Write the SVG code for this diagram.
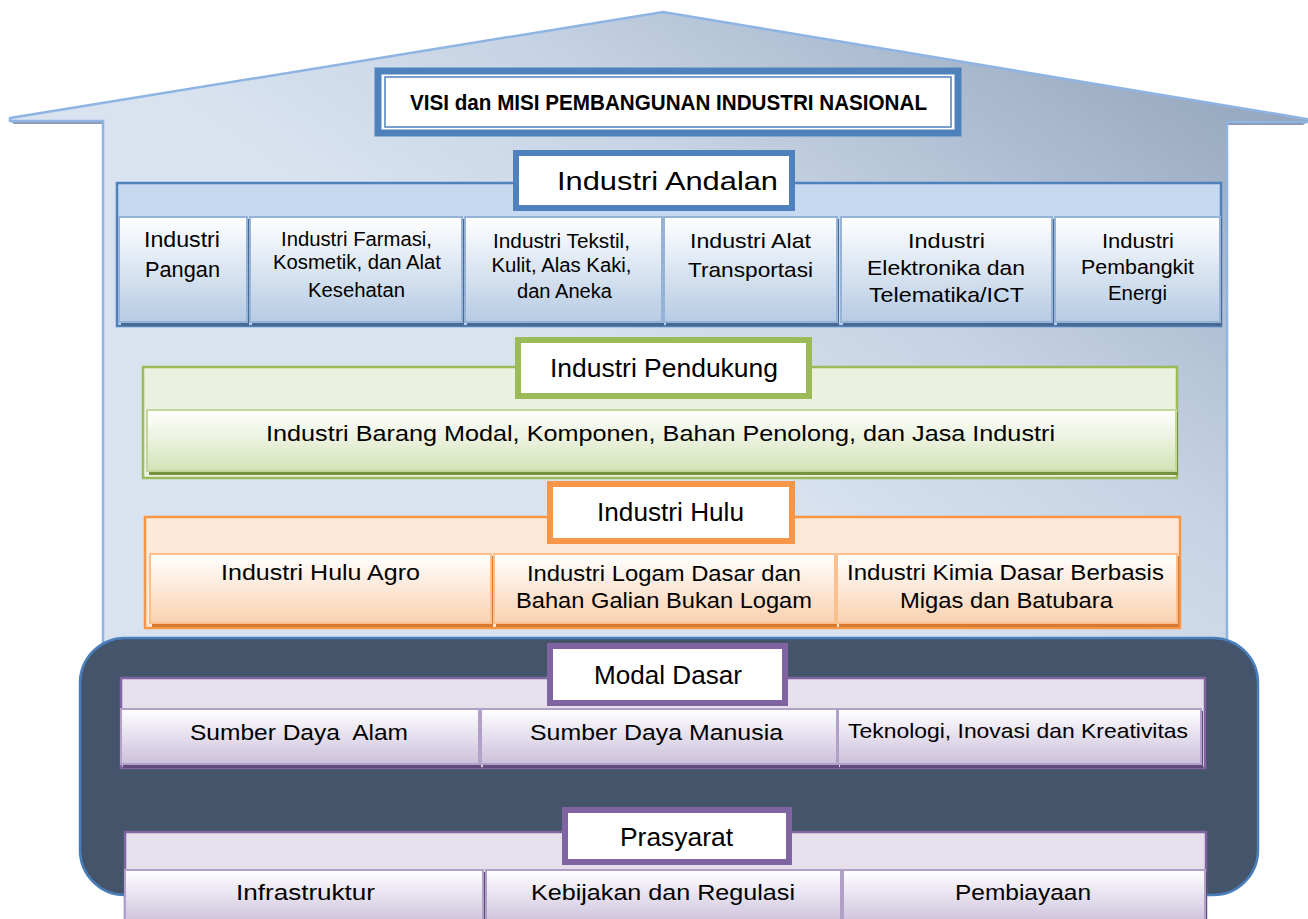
<svg xmlns="http://www.w3.org/2000/svg" width="1308" height="919" viewBox="0 0 1308 919">
<defs>
  <linearGradient id="gHouse" gradientUnits="userSpaceOnUse" x1="1250" y1="100" x2="900" y2="600">
    <stop offset="0" stop-color="#96a8bf"/>
    <stop offset="0.6" stop-color="#c6d3e4"/>
    <stop offset="1" stop-color="#d9e3f0"/>
  </linearGradient>
  <linearGradient id="gBlue" x1="0" y1="0" x2="0" y2="1">
    <stop offset="0" stop-color="#ffffff"/>
    <stop offset="1" stop-color="#b6cbe4"/>
  </linearGradient>
  <linearGradient id="gGreen" x1="0" y1="0" x2="0" y2="1">
    <stop offset="0" stop-color="#ffffff"/>
    <stop offset="1" stop-color="#d4e3b8"/>
  </linearGradient>
  <linearGradient id="gOrange" x1="0" y1="0" x2="0" y2="1">
    <stop offset="0" stop-color="#ffffff"/>
    <stop offset="1" stop-color="#fad1b0"/>
  </linearGradient>
  <linearGradient id="gPurple" x1="0" y1="0" x2="0" y2="1">
    <stop offset="0" stop-color="#ffffff"/>
    <stop offset="1" stop-color="#cbbfdb"/>
  </linearGradient>
</defs>
<style>
  text { font-family: "Liberation Sans", Arial, sans-serif; fill: #000; text-anchor: middle; }
  .title { font-weight: bold; font-size: 22px; }
  .hdr { font-size: 25px; }
  .t22 { font-size: 22px; }
  .t21 { font-size: 21px; }
  .t20 { font-size: 20px; }
  .hb { fill: #ffffff; stroke-width: 6; }
  .blue { stroke: #4f81bd; }
  .green { stroke: #9bbb59; }
  .orange { stroke: #f79646; }
  .purple { stroke: #8064a2; }
  .cBlue { fill: #c6d9f1; stroke: #4f81bd; stroke-width: 2.5; }
  .cGreen { fill: #ebf1de; stroke: #9bbb59; stroke-width: 2.5; }
  .cOrange { fill: #fde9d9; stroke: #f79646; stroke-width: 2.5; }
  .cPurple { fill: #e5e0ec; stroke: #8064a2; stroke-width: 2.5; }
  .bBlue { fill: url(#gBlue); stroke: #95b3d7; stroke-width: 2; }
  .bGreen { fill: url(#gGreen); stroke: #c3d69b; stroke-width: 2; }
  .bOrange { fill: url(#gOrange); stroke: #fac090; stroke-width: 2; }
  .bPurple { fill: url(#gPurple); stroke: #b2a1c7; stroke-width: 2; }
  .shB { fill: #4a6a96; }
  .shG { fill: #76923c; }
  .shO { fill: #d9782e; }
  .shP { fill: #5f4a7b; }
</style>

<g id="house">
  <path d="M10,121 L103,121 L103,124 L14,124 Z M1227,122 L1307,122 L1303,125 L1227,125 Z" fill="#8c9aad"/>
  <path d="M10,118 L663,12 L1307,119 L1307,122 L1227,122 L1227,650 L103,650 L103,121 L10,121 Z" fill="url(#gHouse)" stroke="#8eb4e3" stroke-width="2.5" stroke-linejoin="miter"/>
</g>

<g id="title">
  <rect x="378" y="71" width="580" height="62" fill="#ffffff" stroke="#4f81bd" stroke-width="7"/>
  <rect x="385" y="77" width="566" height="50" fill="#ffffff" stroke="#4f81bd" stroke-width="1.5"/>
  <text class="title" x="668.5" y="110" textLength="517" lengthAdjust="spacingAndGlyphs">VISI dan MISI PEMBANGUNAN INDUSTRI NASIONAL</text>
</g>

<g id="andalan">
  <rect class="cBlue" x="117" y="183" width="1104" height="143"/>
  <rect class="hb blue" x="516" y="153" width="276" height="55"/>
  <text class="hdr" x="667.5" y="190" textLength="221" lengthAdjust="spacingAndGlyphs">Industri Andalan</text>
</g>
<g id="andalan-1">
  <rect class="shB" x="121" y="219" width="128" height="107"/>
  <rect class="bBlue" x="119" y="217" width="128" height="105"/>
  <text class="t22" x="182" y="247" textLength="76" lengthAdjust="spacingAndGlyphs">Industri</text>
  <text class="t22" x="182.5" y="277" textLength="75" lengthAdjust="spacingAndGlyphs">Pangan</text>
</g>
<g id="andalan-2">
  <rect class="shB" x="252" y="219" width="212" height="107"/>
  <rect class="bBlue" x="250" y="217" width="212" height="105"/>
  <text class="t20" x="356.5" y="246" textLength="151" lengthAdjust="spacingAndGlyphs">Industri Farmasi,</text>
  <text class="t20" x="357" y="269" textLength="168" lengthAdjust="spacingAndGlyphs">Kosmetik, dan Alat</text>
  <text class="t20" x="356.5" y="297" textLength="97" lengthAdjust="spacingAndGlyphs">Kesehatan</text>
</g>
<g id="andalan-3">
  <rect class="shB" x="467" y="219" width="197" height="107"/>
  <rect class="bBlue" x="465" y="217" width="197" height="105"/>
  <text class="t20" x="561.5" y="248" textLength="137" lengthAdjust="spacingAndGlyphs">Industri Tekstil,</text>
  <text class="t20" x="561.5" y="272" textLength="140" lengthAdjust="spacingAndGlyphs">Kulit, Alas Kaki,</text>
  <text class="t20" x="564.5" y="298" textLength="95" lengthAdjust="spacingAndGlyphs">dan Aneka</text>
</g>
<g id="andalan-4">
  <rect class="shB" x="666" y="219" width="173" height="107"/>
  <rect class="bBlue" x="664" y="217" width="173" height="105"/>
  <text class="t21" x="750.5" y="248" textLength="121" lengthAdjust="spacingAndGlyphs">Industri Alat</text>
  <text class="t21" x="750.5" y="277" textLength="125" lengthAdjust="spacingAndGlyphs">Transportasi</text>
</g>
<g id="andalan-5">
  <rect class="shB" x="843" y="219" width="211" height="107"/>
  <rect class="bBlue" x="841" y="217" width="211" height="105"/>
  <text class="t21" x="946.5" y="248" textLength="77" lengthAdjust="spacingAndGlyphs">Industri</text>
  <text class="t21" x="946" y="275" textLength="158" lengthAdjust="spacingAndGlyphs">Elektronika dan</text>
  <text class="t21" x="946.5" y="302" textLength="155" lengthAdjust="spacingAndGlyphs">Telematika/ICT</text>
</g>
<g id="andalan-6">
  <rect class="shB" x="1057" y="219" width="165" height="107"/>
  <rect class="bBlue" x="1055" y="217" width="165" height="105"/>
  <text class="t20" x="1138" y="248" textLength="72" lengthAdjust="spacingAndGlyphs">Industri</text>
  <text class="t20" x="1137.5" y="274" textLength="113" lengthAdjust="spacingAndGlyphs">Pembangkit</text>
  <text class="t20" x="1137.5" y="300" textLength="59" lengthAdjust="spacingAndGlyphs">Energi</text>
</g>

<g id="pendukung">
  <rect class="cGreen" x="143" y="367" width="1034" height="111"/>
  <rect class="hb green" x="518" y="340" width="291" height="56"/>
  <text class="hdr" x="664" y="377" textLength="228" lengthAdjust="spacingAndGlyphs">Industri Pendukung</text>
</g>
<g id="pendukung-1">
  <rect class="shG" x="149" y="412" width="1029" height="63"/>
  <rect class="bGreen" x="147" y="410" width="1029" height="61"/>
  <text class="t22" x="660.5" y="441" textLength="789" lengthAdjust="spacingAndGlyphs">Industri Barang Modal, Komponen, Bahan Penolong, dan Jasa Industri</text>
</g>

<g id="hulu">
  <rect class="cOrange" x="145" y="517" width="1035" height="111"/>
  <rect class="hb orange" x="550" y="484" width="242" height="57"/>
  <text class="hdr" x="670.5" y="521" textLength="147" lengthAdjust="spacingAndGlyphs">Industri Hulu</text>
</g>
<g id="hulu-1">
  <rect class="shO" x="152" y="556" width="341" height="71"/>
  <rect class="bOrange" x="150" y="554" width="341" height="69"/>
  <text class="t22" x="320.5" y="580" textLength="199" lengthAdjust="spacingAndGlyphs">Industri Hulu Agro</text>
</g>
<g id="hulu-2">
  <rect class="shO" x="496" y="556" width="341" height="71"/>
  <rect class="bOrange" x="494" y="554" width="341" height="69"/>
  <text class="t22" x="664" y="581" textLength="274" lengthAdjust="spacingAndGlyphs">Industri Logam Dasar dan</text>
  <text class="t22" x="664" y="608" textLength="296" lengthAdjust="spacingAndGlyphs">Bahan Galian Bukan Logam</text>
</g>
<g id="hulu-3">
  <rect class="shO" x="839" y="556" width="340" height="71"/>
  <rect class="bOrange" x="837" y="554" width="340" height="69"/>
  <text class="t22" x="1005.5" y="580" textLength="317" lengthAdjust="spacingAndGlyphs">Industri Kimia Dasar Berbasis</text>
  <text class="t22" x="1006.5" y="608" textLength="213" lengthAdjust="spacingAndGlyphs">Migas dan Batubara</text>
</g>

<g id="base">
  <rect x="80" y="638" width="1178" height="257" rx="45" ry="45" fill="#44546a" stroke="#4a7ebb" stroke-width="2.5"/>
</g>

<g id="modal-dasar">
  <rect class="cPurple" x="121" y="678" width="1084" height="90"/>
  <rect class="hb purple" x="550" y="646" width="235" height="57"/>
  <text class="hdr" x="668" y="684" textLength="148" lengthAdjust="spacingAndGlyphs">Modal Dasar</text>
</g>
<g id="modal-1">
  <rect class="shP" x="123" y="711" width="358" height="57"/>
  <rect class="bPurple" x="121" y="709" width="358" height="55"/>
  <text class="t22" x="299" y="740" textLength="218" lengthAdjust="spacingAndGlyphs" xml:space="preserve">Sumber Daya  Alam</text>
</g>
<g id="modal-2">
  <rect class="shP" x="483" y="711" width="356" height="57"/>
  <rect class="bPurple" x="481" y="709" width="356" height="55"/>
  <text class="t22" x="656.5" y="740" textLength="253" lengthAdjust="spacingAndGlyphs">Sumber Daya Manusia</text>
</g>
<g id="modal-3">
  <rect class="shP" x="840" y="711" width="363" height="57"/>
  <rect class="bPurple" x="838" y="709" width="363" height="55"/>
  <text class="t21" x="1018" y="738" textLength="340" lengthAdjust="spacingAndGlyphs">Teknologi, Inovasi dan Kreativitas</text>
</g>

<g id="prasyarat">
  <rect class="cPurple" x="125" y="832" width="1081" height="95"/>
  <rect class="hb purple" x="565" y="810" width="224" height="52"/>
  <text class="hdr" x="676.5" y="846" textLength="113" lengthAdjust="spacingAndGlyphs">Prasyarat</text>
</g>
<g id="prasyarat-1">
  <rect class="shP" x="127" y="872" width="358" height="57"/>
  <rect class="bPurple" x="125" y="870" width="358" height="55"/>
  <text class="t22" x="305.5" y="900" textLength="139" lengthAdjust="spacingAndGlyphs">Infrastruktur</text>
</g>
<g id="prasyarat-2">
  <rect class="shP" x="488" y="872" width="355" height="57"/>
  <rect class="bPurple" x="486" y="870" width="355" height="55"/>
  <text class="t22" x="663" y="900" textLength="264" lengthAdjust="spacingAndGlyphs">Kebijakan dan Regulasi</text>
</g>
<g id="prasyarat-3">
  <rect class="shP" x="845" y="872" width="362" height="57"/>
  <rect class="bPurple" x="843" y="870" width="362" height="55"/>
  <text class="t22" x="1023" y="900" textLength="136" lengthAdjust="spacingAndGlyphs">Pembiayaan</text>
</g>

<g id="connectors"></g>
</svg>
